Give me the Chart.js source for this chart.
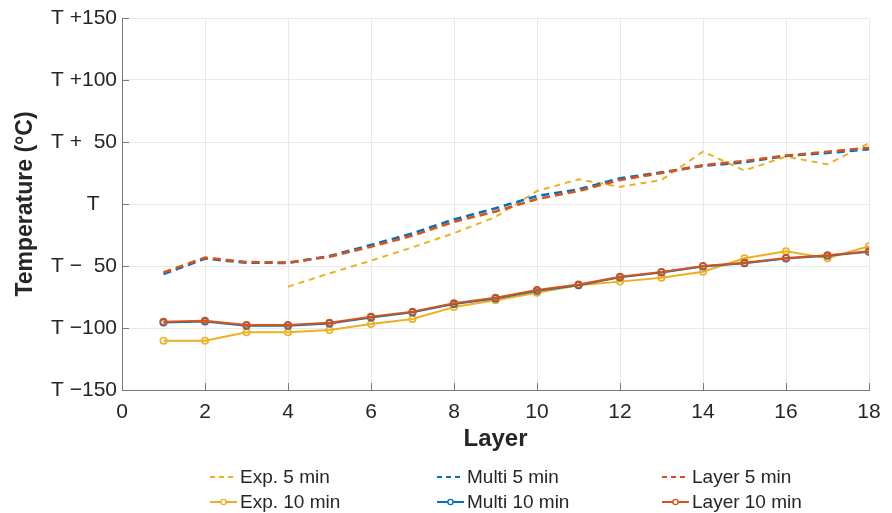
<!DOCTYPE html>
<html>
<head>
<meta charset="utf-8">
<script src="https://cdn.jsdelivr.net/npm/chart.js@4.4.1/dist/chart.umd.min.js"></script>
<style>
  html, body { margin: 0; padding: 0; background: #ffffff; }
  #wrap { width: 892px; height: 513px; }
</style>
</head>
<body>
<div id="wrap"><canvas id="chart" width="892" height="513"></canvas></div>
<script>
// Layer index (x axis)
const layers = [1, 2, 3, 4, 5, 6, 7, 8, 9, 10, 11, 12, 13, 14, 15, 16, 17, 18];

// Temperatures relative to T (°C)
const exp5   = [null, null, null, -66.7, -55.9, -45.7, -34.9, -23.5, -10.5, 10.5, 19.9, 13.8, 19.4, 42.2, 27.0, 38.2, 32.0, 49.0];
const multi5 = [-56.5, -44.0, -47.3, -47.5, -42.0, -33.0, -23.7, -12.4, -3.5, 6.5, 11.8, 20.7, 25.5, 30.8, 33.6, 38.8, 41.2, 44.2];
const layer5 = [-55.2, -43.3, -46.8, -47.3, -42.5, -34.4, -25.5, -14.3, -6.0, 4.0, 10.5, 19.4, 25.0, 31.3, 34.7, 39.0, 42.2, 45.4];
const exp10   = [-110.2, -110.2, -103.5, -103.5, -101.6, -96.8, -92.7, -83.1, -77.6, -71.5, -65.5, -62.6, -59.4, -54.6, -43.8, -38.2, -43.8, -34.1];
const multi10 = [-95.6, -94.8, -98.2, -98.2, -96.3, -91.5, -87.4, -80.7, -76.2, -70.0, -65.5, -59.1, -55.2, -50.4, -47.7, -43.9, -41.8, -38.6];
const layer10 = [-94.9, -94.1, -97.6, -97.6, -95.7, -90.9, -86.8, -80.1, -75.6, -69.4, -65.0, -58.6, -54.8, -50.0, -47.3, -43.5, -41.4, -38.2];

// Y tick values and their labels
const yTickValues = [-150, -100, -50, 0, 50, 100, 150];
const yTickLabels = ['T \u2212150', 'T \u2212100', 'T \u2212  50', 'T   ', 'T +  50', 'T +100', 'T +150'];

const seriesLabels = ['Exp. 5 min', 'Multi 5 min', 'Layer 5 min', 'Exp. 10 min', 'Multi 10 min', 'Layer 10 min'];

const BLUE = '#0072BD', ORANGE = '#D95319', YELLOW = '#EDB120';
const FONT = "'Liberation Sans', Arial, Helvetica, sans-serif";
const TEXT = '#262626';

function pts(values) {
  return layers.map((x, i) => ({ x: x, y: values[i] }));
}

function dashed(label, values, color, width, dash, order) {
  return {
    label, data: pts(values), borderColor: color, backgroundColor: color,
    borderWidth: width, borderDash: dash, pointRadius: 0, spanGaps: false,
    tension: 0, order
  };
}
function solid(label, values, color, order) {
  return {
    label, data: pts(values), borderColor: color, backgroundColor: color,
    borderWidth: 2, pointRadius: 3.2, pointBorderWidth: 1.6,
    pointBackgroundColor: 'rgba(255,255,255,0)', pointBorderColor: color,
    tension: 0, order
  };
}

const datasets = [
  dashed(seriesLabels[0], exp5, YELLOW, 2, [6, 5], 6),
  dashed(seriesLabels[1], multi5, BLUE, 2.6, [8, 5], 5),
  dashed(seriesLabels[2], layer5, ORANGE, 2.6, [8, 5], 4),
  solid(seriesLabels[3], exp10, YELLOW, 3),
  solid(seriesLabels[4], multi10, BLUE, 2),
  solid(seriesLabels[5], layer10, ORANGE, 1)
];

// Small inward tick marks on both axes
const innerTicks = {
  id: 'innerTicks',
  beforeDatasetsDraw(chart) {
    const { ctx, chartArea, scales } = chart;
    ctx.save();
    ctx.strokeStyle = '#7a7a7a';
    ctx.lineWidth = 1;
    ctx.beginPath();
    scales.x.ticks.forEach(t => {
      const px = Math.round(scales.x.getPixelForValue(t.value)) + 0.5;
      ctx.moveTo(px, chartArea.bottom);
      ctx.lineTo(px, chartArea.bottom - 7);
    });
    scales.y.ticks.forEach(t => {
      const py = Math.round(scales.y.getPixelForValue(t.value)) + 0.5;
      ctx.moveTo(chartArea.left, py);
      ctx.lineTo(chartArea.left + 7, py);
    });
    ctx.stroke();
    ctx.restore();
  }
};

// Three-column legend below the axis title
const gridLegend = {
  id: 'gridLegend',
  afterDraw(chart, args, opts) {
    const { ctx } = chart;
    ctx.save();
    ctx.font = '19px ' + FONT;
    ctx.textBaseline = 'middle';
    ctx.textAlign = 'left';
    chart.data.datasets.forEach((ds, i) => {
      const col = i % 3, row = Math.floor(i / 3);
      const x0 = opts.columns[col], y = opts.rows[row];
      const len = opts.sample;
      ctx.strokeStyle = ds.borderColor;
      ctx.lineWidth = Math.min(ds.borderWidth, 2);
      ctx.setLineDash(ds.borderDash ? [5, 4] : []);
      ctx.beginPath();
      ctx.moveTo(x0, y);
      ctx.lineTo(x0 + len, y);
      ctx.stroke();
      ctx.setLineDash([]);
      if (ds.pointRadius) {
        ctx.beginPath();
        ctx.fillStyle = '#ffffff';
        ctx.arc(x0 + len / 2, y, 2.6, 0, Math.PI * 2);
        ctx.fill();
        ctx.lineWidth = 1.4;
        ctx.stroke();
      }
      ctx.fillStyle = TEXT;
      ctx.fillText(ds.label, x0 + len + 3, y + 1);
    });
    ctx.restore();
  }
};

new Chart(document.getElementById('chart'), {
  type: 'line',
  data: { datasets },
  plugins: [innerTicks, gridLegend],
  options: {
    responsive: false,
    animation: false,
    events: [],
    layout: { padding: { left: 0, top: 18, right: 23, bottom: 53 } },
    plugins: {
      legend: { display: false },
      tooltip: { enabled: false },
      gridLegend: { columns: [210, 437, 662], rows: [477, 502], sample: 27 }
    },
    scales: {
      x: {
        type: 'linear', min: 0, max: 18,
        afterFit(scale) { scale.height = 70; },
        ticks: { stepSize: 2, padding: 10, color: TEXT, font: { family: FONT, size: 21 }, maxRotation: 0 },
        grid: { color: '#e9e9e9', drawTicks: false },
        border: { display: true, color: '#7a7a7a', width: 1 },
        title: { display: true, text: 'Layer', color: TEXT, font: { family: FONT, size: 24, weight: 'bold' }, padding: { top: 0, bottom: 6 } }
      },
      y: {
        type: 'linear', min: -150, max: 150,
        afterFit(scale) { scale.width = 122; },
        afterBuildTicks(scale) { scale.ticks = yTickValues.map(v => ({ value: v })); },
        ticks: {
          padding: 5, color: TEXT, font: { family: FONT, size: 21 },
          callback: (v) => { const i = yTickValues.indexOf(v); return i >= 0 ? yTickLabels[i] : ''; }
        },
        grid: { color: '#e9e9e9', drawTicks: false },
        border: { display: true, color: '#7a7a7a', width: 1 },
        title: { display: true, text: 'Temperature (°C)', color: TEXT, font: { family: FONT, size: 23, weight: 'bold' }, padding: { top: 12, bottom: 0 } }
      }
    }
  }
});
</script>
</body>
</html>
